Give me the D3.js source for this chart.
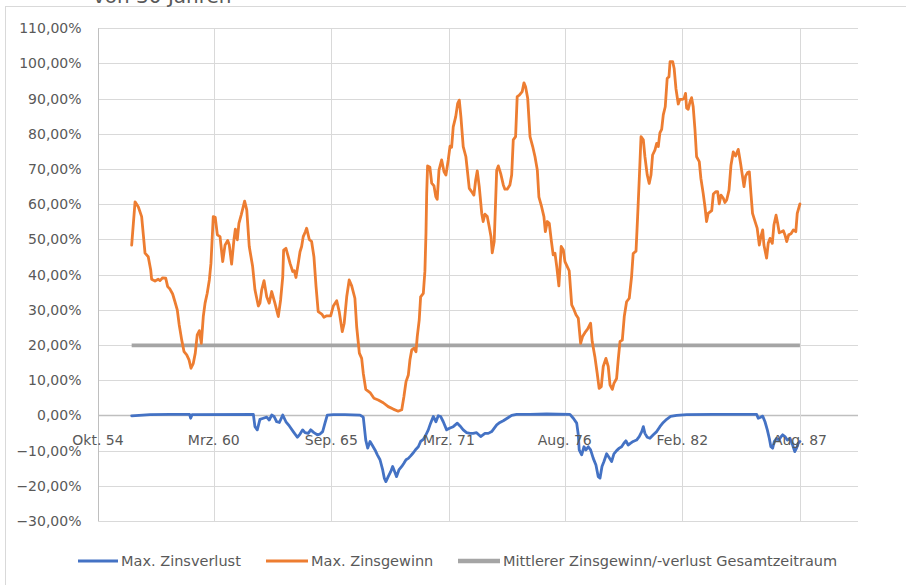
<!DOCTYPE html>
<html><head><meta charset="utf-8">
<script src="https://cdn.jsdelivr.net/npm/d3@7"></script>
<style>html,body{margin:0;padding:0;background:#fff;} svg{display:block;}</style>
</head><body>
<svg id="chart" width="906" height="585"></svg>
<script>
// Category (time) axis: month offsets from Okt. 54
const tickLabels = ["Okt. 54","Mrz. 60","Sep. 65","Mrz. 71","Aug. 76","Feb. 82","Aug. 87"];
const tickMonths = [0, 65, 131, 197, 262, 328, 394];
const yTicks = [-30,-20,-10,0,10,20,30,40,50,60,70,80,90,100,110];
const seriesNames = ["Max. Zinsverlust","Max. Zinsgewinn","Mittlerer Zinsgewinn/-verlust Gesamtzeitraum"];
const seriesColors = ["#4472C4","#ED7D31","#A5A5A5"];

// [month offset, value in %]
const maxLoss = [[18.9,-0.1],[29.2,0.2],[40.4,0.3],[51.4,0.3],[52.0,-0.8],[52.8,0.2],[87.2,0.3],[88.1,-3.2],[89.4,-4.1],[90.9,-1.1],[92.8,-0.8],[94.7,-0.5],[96.1,-1.3],[97.5,0.1],[98.8,-0.3],[100.3,-1.8],[101.8,-2.0],[103.7,0.1],[105.5,-1.8],[107.4,-3.0],[109.6,-4.6],[111.9,-6.2],[113.4,-5.3],[114.9,-4.1],[116.2,-4.9],[118.0,-5.1],[119.4,-4.1],[121.2,-4.9],[123.1,-5.5],[124.6,-5.3],[126.1,-4.6],[127.4,-2.2],[128.7,0.1],[132.1,0.2],[138.6,0.2],[147.1,0.1],[148.9,-0.5],[150.3,-7.0],[151.4,-9.3],[152.7,-7.4],[154.2,-8.7],[155.5,-9.8],[156.8,-11.2],[158.3,-12.6],[159.8,-15.5],[160.7,-17.8],[161.6,-18.8],[162.9,-17.4],[164.3,-16.0],[165.4,-14.5],[166.7,-16.2],[167.6,-17.4],[168.9,-15.5],[170.5,-14.5],[171.7,-13.6],[172.9,-12.6],[174.2,-12.2],[175.5,-11.5],[177.0,-10.6],[178.5,-9.6],[179.8,-8.9],[181.1,-7.4],[182.6,-6.8],[184.1,-5.5],[185.4,-4.1],[186.7,-2.2],[188.2,-0.3],[189.7,-1.8],[191.0,-0.1],[192.3,-0.3],[193.8,-1.8],[195.7,-4.1],[197.6,-3.6],[199.4,-3.2],[201.7,-2.2],[203.2,-3.0],[205.0,-4.1],[206.9,-4.9],[208.8,-5.1],[210.6,-5.1],[212.5,-4.9],[214.8,-6.0],[217.2,-5.1],[219.1,-5.1],[221.0,-4.6],[223.8,-2.7],[225.6,-2.0],[227.5,-1.5],[229.7,-0.8],[232.2,0.0],[235.0,0.3],[242.5,0.3],[251.8,0.4],[264.9,0.3],[266.8,-0.8],[268.7,-2.2],[269.6,-5.5],[270.1,-9.8],[271.5,-11.2],[272.8,-8.9],[273.9,-9.8],[275.2,-8.9],[276.5,-9.8],[278.0,-12.2],[279.5,-14.1],[280.8,-17.4],[281.8,-17.8],[282.9,-14.5],[284.0,-13.1],[285.5,-10.9],[286.8,-11.9],[288.3,-13.1],[289.6,-10.9],[291.1,-10.0],[292.6,-9.3],[293.9,-8.9],[295.2,-7.9],[296.3,-7.2],[297.6,-8.4],[299.0,-7.9],[300.4,-7.4],[302.3,-7.0],[303.8,-6.0],[305.2,-4.6],[306.1,-3.2],[307.0,-5.1],[308.3,-6.2],[309.8,-6.5],[311.7,-5.5],[313.6,-4.6],[315.4,-3.2],[317.3,-2.0],[319.2,-1.1],[321.4,-0.3],[324.8,0.0],[330.4,0.2],[345.4,0.3],[369.7,0.3],[370.6,-0.8],[371.9,-0.5],[373.1,-0.2],[374.4,-1.8],[375.7,-4.1],[376.8,-6.5],[377.7,-8.9],[378.7,-9.3],[379.6,-7.4],[380.9,-6.5],[382.2,-7.0],[383.2,-6.2],[384.3,-5.5],[385.6,-6.0],[386.9,-7.0],[388.4,-6.5],[389.9,-8.4],[391.1,-10.3],[392.1,-9.3],[393.0,-7.9],[394.0,-7.4]];

const maxGain = [[18.9,48.4],[20.8,60.7],[22.6,59.3],[24.5,56.5],[26.4,46.1],[28.2,45.1],[29.6,41.3],[30.1,38.7],[32.0,38.2],[33.8,38.7],[34.8,38.3],[36.3,39.1],[38.0,39.0],[39.1,36.6],[40.4,35.9],[41.9,34.5],[43.2,32.3],[44.5,30.0],[45.6,25.7],[47.0,21.4],[48.3,18.1],[49.8,17.2],[51.1,15.8],[52.2,13.4],[53.5,14.8],[54.6,17.7],[55.7,22.9],[56.9,24.1],[58.0,20.5],[59.1,28.1],[60.1,31.9],[61.3,34.7],[62.5,38.5],[63.4,43.2],[64.7,56.5],[65.8,56.3],[67.0,51.3],[68.5,50.8],[70.0,43.7],[71.3,48.4],[72.8,49.7],[73.7,48.4],[75.0,43.0],[76.3,49.9],[77.1,52.9],[78.2,49.9],[79.1,54.6],[80.4,57.0],[82.3,60.9],[83.5,58.4],[84.9,48.0],[86.8,42.3],[88.1,35.7],[90.0,31.1],[90.9,31.9],[91.9,35.7],[93.2,38.3],[94.7,33.7],[96.1,31.9],[97.5,35.2],[99.3,31.9],[101.2,28.1],[102.5,32.8],[103.7,39.4],[104.2,47.0],[105.5,47.5],[106.8,45.1],[107.8,43.2],[109.3,40.9],[110.2,41.1],[111.1,39.2],[112.4,43.2],[113.4,46.5],[114.3,48.0],[115.2,50.8],[116.4,52.2],[117.1,53.2],[118.6,50.0],[119.9,49.4],[121.2,45.1],[122.4,36.6],[123.6,29.5],[125.6,28.8],[126.8,27.9],[128.4,28.3],[130.6,28.3],[132.1,31.1],[134.0,32.6],[135.4,29.5],[137.1,23.8],[138.2,26.2],[139.6,33.7],[141.0,38.5],[142.4,36.8],[144.2,33.3],[145.2,25.2],[146.7,17.7],[148.0,16.2],[148.9,12.0],[150.3,7.4],[152.7,6.5],[154.9,4.9],[157.3,4.4],[160.1,3.6],[162.9,2.5],[165.7,1.8],[168.5,1.2],[170.5,1.6],[171.7,5.3],[172.9,9.6],[174.2,11.5],[175.1,15.8],[176.1,18.6],[177.4,19.1],[178.5,18.1],[179.2,22.4],[180.3,27.1],[181.1,33.7],[182.6,34.7],[183.5,41.0],[184.1,51.8],[184.5,63.1],[185.0,70.9],[186.3,70.5],[187.3,66.0],[188.6,65.2],[189.6,62.2],[190.4,61.4],[191.4,69.7],[192.9,72.6],[194.2,69.3],[195.3,68.3],[196.6,72.6],[197.6,76.5],[198.5,76.2],[199.4,82.0],[200.8,84.9],[201.9,88.7],[202.8,89.6],[203.7,84.9],[205.0,76.4],[206.5,73.5],[207.5,68.8],[208.4,64.5],[209.7,63.6],[211.0,62.6],[212.0,66.9],[212.9,69.5],[214.0,65.0],[215.4,57.4],[216.2,55.1],[217.2,57.2],[218.5,56.5],[219.6,53.6],[220.6,50.8],[221.3,46.2],[222.4,49.4],[223.8,69.7],[224.7,70.9],[226.0,68.8],[227.5,65.5],[228.4,64.3],[229.7,64.3],[231.2,65.5],[232.2,68.3],[233.1,78.3],[234.4,79.2],[235.3,90.6],[236.5,91.0],[238.1,92.0],[239.1,94.5],[240.0,93.4],[241.2,90.1],[242.5,79.2],[244.0,76.4],[245.3,73.5],[246.6,69.7],[247.5,62.0],[249.0,59.3],[250.3,56.5],[251.1,52.2],[252.2,55.1],[253.3,54.6],[254.4,49.9],[255.5,45.6],[256.5,46.1],[257.5,42.3],[258.7,36.8],[260.0,48.0],[261.2,47.0],[262.1,43.7],[263.4,42.3],[264.5,41.1],[265.9,31.4],[266.8,30.5],[268.3,28.6],[269.6,27.6],[270.9,20.5],[272.0,22.4],[273.3,23.5],[274.8,24.5],[276.5,26.2],[277.4,21.0],[278.9,16.7],[280.2,12.0],[281.3,7.7],[282.5,8.2],[283.6,13.9],[285.1,16.2],[286.4,13.9],[287.4,8.7],[288.7,7.4],[289.6,9.1],[291.1,10.5],[292.0,15.8],[293.0,21.0],[294.3,21.4],[295.4,28.1],[296.7,32.3],[298.2,33.3],[299.5,39.4],[300.4,46.0],[302.0,46.7],[302.9,56.5],[303.8,66.9],[304.8,79.2],[306.1,78.3],[307.0,73.5],[308.3,68.3],[309.4,65.9],[310.4,68.3],[311.3,74.0],[312.6,75.4],[313.6,77.3],[314.5,76.4],[315.4,80.3],[316.4,81.3],[317.3,85.4],[318.4,87.7],[319.5,95.8],[320.5,96.2],[321.1,100.5],[322.6,100.5],[323.4,98.6],[324.4,92.9],[325.7,88.5],[326.6,89.8],[328.1,89.8],[329.0,90.1],[329.8,91.5],[330.4,87.3],[331.3,87.0],[332.3,89.1],[333.2,90.3],[334.1,87.7],[335.1,81.1],[336.0,73.5],[337.5,72.1],[338.4,67.4],[339.7,63.1],[340.7,59.3],[341.6,55.1],[342.5,57.4],[344.5,58.2],[345.4,62.9],[346.9,63.6],[347.8,63.6],[348.7,60.1],[349.7,62.6],[351.0,61.7],[351.9,60.5],[352.9,61.2],[354.2,64.0],[355.3,71.1],[356.6,74.9],[357.9,73.7],[359.4,75.6],[360.7,71.6],[361.8,67.8],[362.6,65.0],[363.5,68.0],[364.6,69.0],[365.6,69.2],[366.5,63.1],[367.4,57.4],[368.7,55.3],[370.0,53.2],[371.2,48.4],[372.1,50.8],[373.1,52.7],[373.8,48.4],[375.3,44.7],[376.2,48.9],[377.2,50.3],[378.5,48.9],[379.4,54.1],[380.6,56.9],[381.5,54.6],[382.4,51.9],[383.7,52.2],[384.7,52.5],[385.6,51.3],[386.6,49.4],[387.7,51.3],[389.0,51.6],[390.3,52.7],[391.7,52.2],[392.5,57.4],[394.0,60.1]];

const meanMonths = [18.9, 394.0];
const meanValues = [19.9, 19.9];

const FONT = "'DejaVu Sans', sans-serif";
const TXT = "#595959";

const svg = d3.select("#chart");
svg.append("rect").attr("width",906).attr("height",585).attr("fill","#fff");
// chart frame
svg.append("rect").attr("x",5.5).attr("y",6.5).attr("width",920).attr("height",600)
  .attr("fill","none").attr("stroke","#D9D9D9").attr("stroke-width",1);
// title (cut off at the top edge, as in the reference)
svg.append("text").attr("x",93).attr("y",3).attr("font-family",FONT).attr("font-size",20)
  .attr("fill",TXT).text("von 30 Jahren");

const x = d3.scaleLinear().domain([0, 426.6]).range([98, 858]);
const y = d3.scaleLinear().domain([-30, 110]).range([521, 28.3]);

// horizontal gridlines
svg.append("g").selectAll("line").data(yTicks).join("line")
  .attr("x1",x(0)).attr("x2",x(426.6))
  .attr("y1",d=>Math.round(y(d))+0.5).attr("y2",d=>Math.round(y(d))+0.5)
  .attr("stroke",d=>d===0?"#BFBFBF":"#D9D9D9").attr("stroke-width",d=>d===0?1.5:1);
// vertical gridlines
svg.append("g").selectAll("line").data(tickMonths).join("line")
  .attr("x1",d=>Math.round(x(d))+0.5).attr("x2",d=>Math.round(x(d))+0.5)
  .attr("y1",y(110)).attr("y2",y(-30))
  .attr("stroke",(d,i)=>i===0?"#BFBFBF":"#D9D9D9").attr("stroke-width",1);

// y labels
const fmt = v => d3.format(".2f")(v).replace(".",",") + "%";
svg.append("g").selectAll("text").data(yTicks).join("text")
  .attr("x",81.5).attr("y",d=>y(d)+5).attr("text-anchor","end")
  .attr("font-family",FONT).attr("font-size",14).attr("fill",TXT)
  .text(fmt);

// series
const line = d3.line().x(d=>x(d[0])).y(d=>y(d[1]));
svg.append("path").datum(meanMonths.map((m,i)=>[m,meanValues[i]]))
  .attr("d",line).attr("fill","none").attr("stroke",seriesColors[2]).attr("stroke-width",3.8);
svg.append("path").datum(maxGain).attr("d",line).attr("fill","none")
  .attr("stroke",seriesColors[1]).attr("stroke-width",2.8)
  .attr("stroke-linejoin","round").attr("stroke-linecap","round");
svg.append("path").datum(maxLoss).attr("d",line).attr("fill","none")
  .attr("stroke",seriesColors[0]).attr("stroke-width",2.8)
  .attr("stroke-linejoin","round").attr("stroke-linecap","round");

// x labels
svg.append("g").selectAll("text").data(tickLabels).join("text")
  .attr("x",(d,i)=>x(tickMonths[i])).attr("y",445).attr("text-anchor","middle")
  .attr("font-family",FONT).attr("font-size",14).attr("fill",TXT).text(d=>d);

// legend
const legendItems = [
  {name: seriesNames[0], color: seriesColors[0], x0: 78, x1: 118, w: 3},
  {name: seriesNames[1], color: seriesColors[1], x0: 266, x1: 308, w: 3},
  {name: seriesNames[2], color: seriesColors[2], x0: 458, x1: 500, w: 4.5}
];
const lg = svg.append("g");
legendItems.forEach(it => {
  lg.append("line").attr("x1",it.x0).attr("x2",it.x1).attr("y1",561).attr("y2",561)
    .attr("stroke",it.color).attr("stroke-width",it.w);
  lg.append("text").attr("x",it.x1+3).attr("y",566).attr("font-family",FONT)
    .attr("font-size",14.5).attr("fill",TXT).text(it.name);
});
</script>
</body></html>
